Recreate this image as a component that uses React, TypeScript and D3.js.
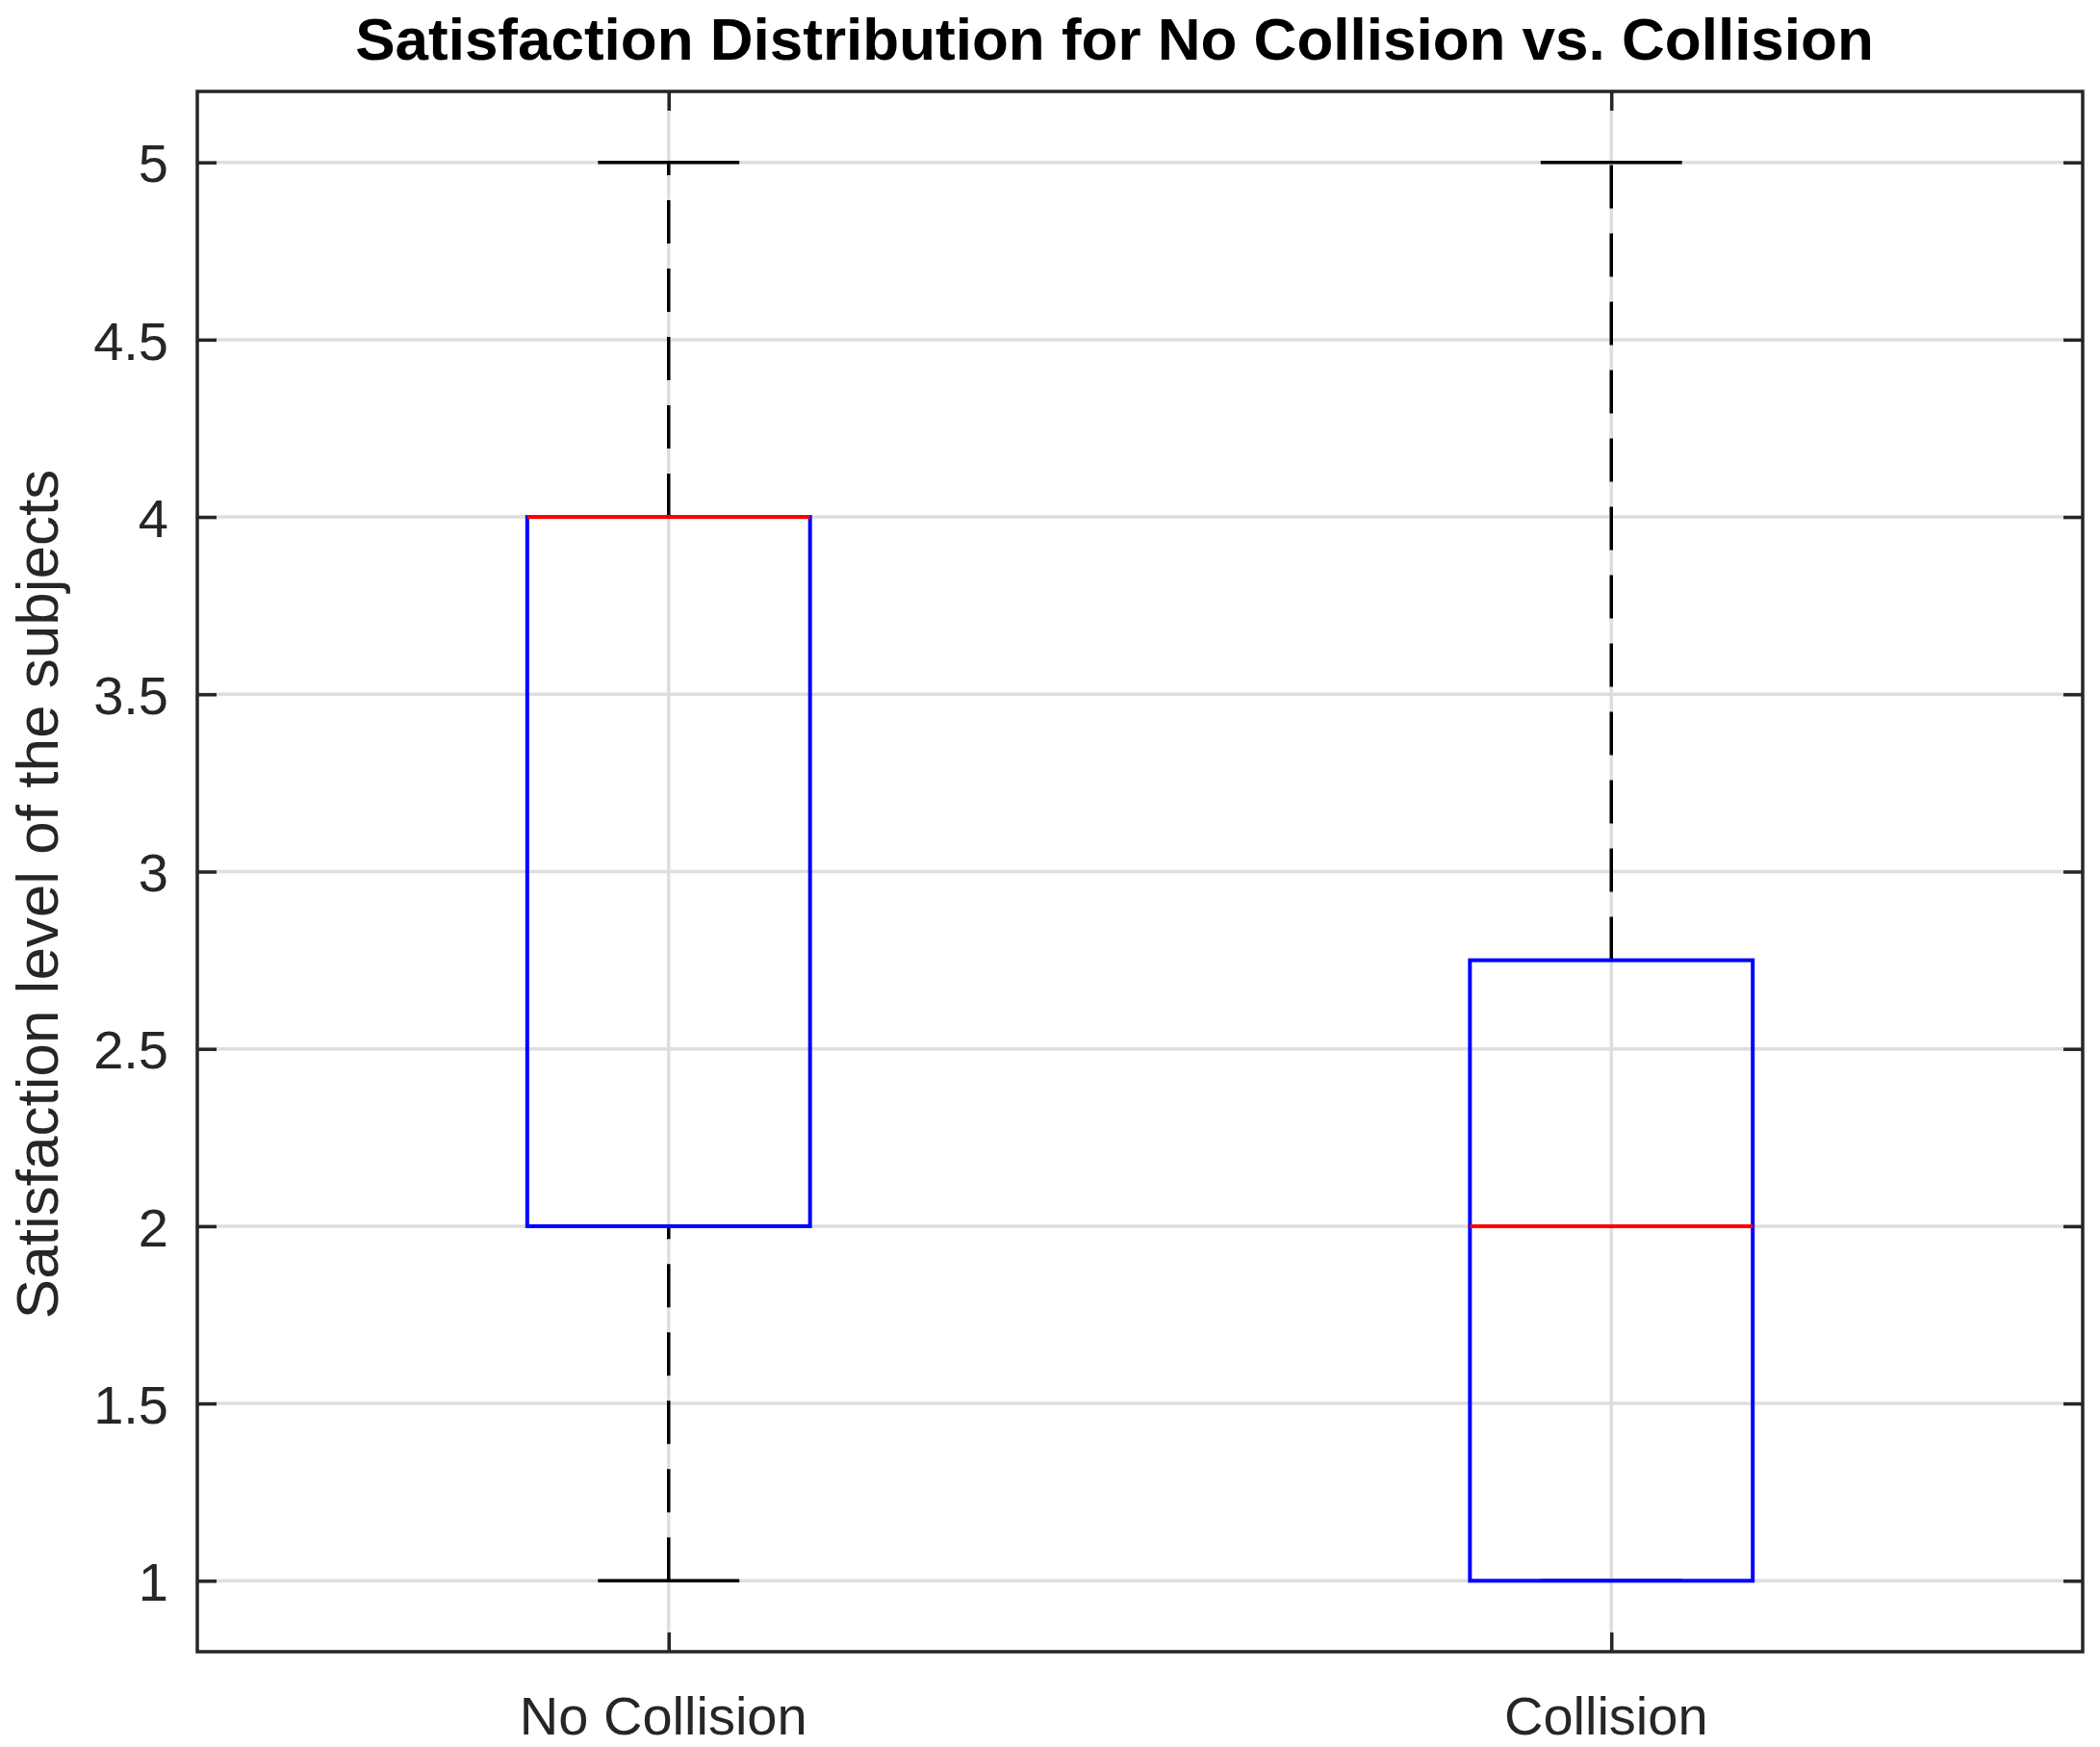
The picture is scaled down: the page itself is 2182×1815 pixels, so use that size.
import { useEffect, useRef } from 'react'
import * as d3 from 'd3'

// box statistics
const groups = ['No Collision', 'Collision']
const mins = [1, 1]
const q1s = [2, 1]
const medians = [4, 2]
const q3s = [4, 2.75]
const maxs = [5, 5]
const yTicks = [1, 1.5, 2, 2.5, 3, 3.5, 4, 4.5, 5]

const FONT = 'Liberation Sans, Arial, Helvetica, sans-serif'
const AXIS = '#262626'
const GRID = '#dedede'

export default function App() {
  const svgRef = useRef<SVGSVGElement>(null)

  useEffect(() => {
    if (!svgRef.current) return
    const width = 2182
    const height = 1815
    const margin = { top: 95, right: 18, bottom: 99, left: 205 }
    const left = margin.left
    const right = width - margin.right
    const top = margin.top
    const bottom = height - margin.bottom

    const svg = d3.select(svgRef.current)
    svg.selectAll('*').remove()
    svg.attr('width', width).attr('height', height)

    svg.append('rect').attr('width', width).attr('height', height).attr('fill', '#fff')

    const xScale = d3.scaleLinear().domain([0.5, 2.5]).range([left, right])
    const yScale = d3.scaleLinear().domain([0.8, 5.2]).range([bottom, top])
    const idx = groups.map((_, i) => i)

    // Grid
    svg.append('g')
      .selectAll('line')
      .data(yTicks)
      .enter().append('line')
      .attr('x1', left).attr('x2', right)
      .attr('y1', d => yScale(d)).attr('y2', d => yScale(d))
      .attr('stroke', GRID).attr('stroke-width', 3.5)

    svg.append('g')
      .selectAll('line')
      .data(idx)
      .enter().append('line')
      .attr('x1', i => xScale(i + 1)).attr('x2', i => xScale(i + 1))
      .attr('y1', top).attr('y2', bottom)
      .attr('stroke', GRID).attr('stroke-width', 3.5)

    const boxW = 0.3
    const capW = 0.15

    // Whiskers (drawn from low value to high value, like MATLAB)
    const whiskers = svg.append('g')
    idx.forEach(i => {
      const cx = xScale(i + 1)
      const segs: [number, number][] = [[mins[i], q1s[i]], [q3s[i], maxs[i]]]
      segs.forEach(([a, b]) => {
        if (a === b) return
        whiskers.append('line')
          .attr('x1', cx).attr('x2', cx)
          .attr('y1', yScale(a)).attr('y2', yScale(b))
          .attr('stroke', '#000').attr('stroke-width', 3.5)
          .attr('stroke-dasharray', '45,26')
      })
      ;[mins[i], maxs[i]].forEach(v => {
        whiskers.append('line')
          .attr('x1', xScale(i + 1 - capW / 2)).attr('x2', xScale(i + 1 + capW / 2))
          .attr('y1', yScale(v)).attr('y2', yScale(v))
          .attr('stroke', '#000').attr('stroke-width', 3.5)
      })
    })

    // Boxes
    svg.append('g')
      .selectAll('rect')
      .data(idx)
      .enter().append('rect')
      .attr('x', i => xScale(i + 1 - boxW / 2))
      .attr('width', xScale(1 + boxW) - xScale(1))
      .attr('y', i => yScale(q3s[i]))
      .attr('height', i => yScale(q1s[i]) - yScale(q3s[i]))
      .attr('fill', 'none')
      .attr('stroke', '#0000ff').attr('stroke-width', 4)

    // Medians
    svg.append('g')
      .selectAll('line')
      .data(idx)
      .enter().append('line')
      .attr('x1', i => xScale(i + 1 - boxW / 2)).attr('x2', i => xScale(i + 1 + boxW / 2))
      .attr('y1', i => yScale(medians[i])).attr('y2', i => yScale(medians[i]))
      .attr('stroke', '#ff0000').attr('stroke-width', 4)

    // Axes
    const styleAxis = (ax: d3.Selection<SVGGElement, unknown, null, undefined>) => {
      ax.select('.domain').remove()
      ax.selectAll('.tick line').attr('stroke', AXIS).attr('stroke-width', 3.5)
      ax.selectAll('.tick text')
        .attr('fill', AXIS)
        .attr('font-size', '56px')
        .attr('font-family', FONT)
    }

    svg.append('g')
      .attr('transform', `translate(${left},0)`)
      .call(d3.axisLeft(yScale).tickValues(yTicks).tickSize(-20).tickPadding(30).tickFormat(d => String(d)))
      .call(styleAxis)
      .call(ax => ax.selectAll('.tick text').attr('dy', '0.36em'))

    svg.append('g')
      .attr('transform', `translate(${right},0)`)
      .call(d3.axisRight(yScale).tickValues(yTicks).tickSize(-20).tickFormat(() => ''))
      .call(styleAxis)

    svg.append('g')
      .attr('transform', `translate(0,${bottom})`)
      .call(d3.axisBottom(xScale).tickValues([1, 2]).tickSize(-20).tickPadding(46).tickFormat(d => groups[Number(d) - 1]))
      .call(styleAxis)
      .call(ax => ax.selectAll('.tick text').attr('dx', '-6'))

    svg.append('g')
      .attr('transform', `translate(0,${top})`)
      .call(d3.axisTop(xScale).tickValues([1, 2]).tickSize(-20).tickFormat(() => ''))
      .call(styleAxis)

    // Frame
    svg.append('rect')
      .attr('x', left).attr('y', top)
      .attr('width', right - left).attr('height', bottom - top)
      .attr('fill', 'none')
      .attr('stroke', AXIS).attr('stroke-width', 3.5)

    // Title and y label
    svg.append('text')
      .attr('x', 1158)
      .attr('y', 62)
      .attr('text-anchor', 'middle')
      .attr('font-family', FONT)
      .attr('font-weight', 'bold')
      .attr('font-size', '62px')
      .attr('fill', '#000')
      .text('Satisfaction Distribution for No Collision vs. Collision')

    svg.append('text')
      .attr('transform', `translate(60,929) rotate(-90)`)
      .attr('text-anchor', 'middle')
      .attr('font-family', FONT)
      .attr('font-size', '62px')
      .attr('fill', AXIS)
      .text('Satisfaction level of the subjects')
  }, [])

  return (
    <div style={{ position: 'absolute', left: 0, top: 0 }}>
      <svg ref={svgRef} style={{ display: 'block' }} />
    </div>
  )
}
